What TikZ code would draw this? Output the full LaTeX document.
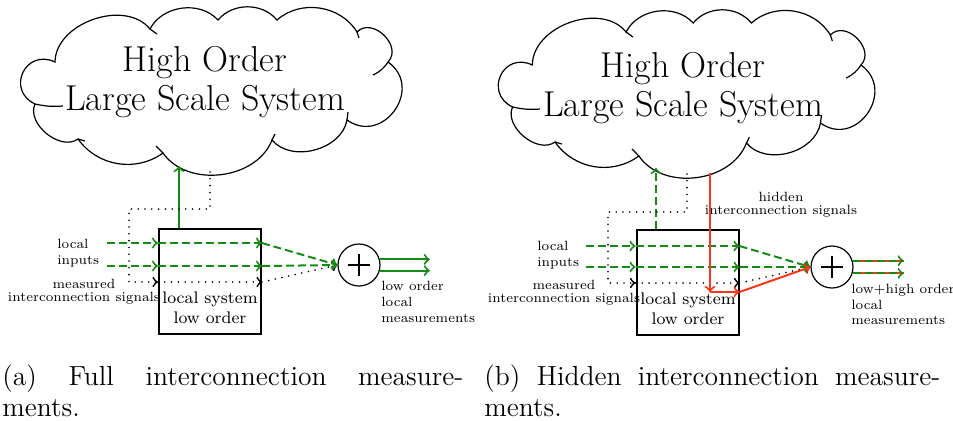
\documentclass[tikz,border=0pt]{standalone}
\usetikzlibrary{calc}
\definecolor{sigGreen}{RGB}{20,140,20}
\definecolor{sigRed}{RGB}{250,55,25}
\tikzset{
  cloudline/.style={line width=0.6pt},
  hostext/.style={align=center, font=\fontsize{18}{19.5}\selectfont},
  sysbox/.style={draw, line width=1pt, minimum width=51pt, minimum height=52.5pt},
  boxtext/.style={align=center, font=\fontsize{8.4}{10}\selectfont, inner sep=0pt},
  sumnode/.style={circle, draw, line width=0.6pt, minimum size=21pt, inner sep=0pt},
  lbl/.style={font=\fontsize{6.7}{7.9}\selectfont, inner sep=0pt},
  gsolid/.style={sigGreen, line width=1pt},
  gdash/.style={sigGreen, line width=1pt, dash pattern=on 4pt off 2pt},
  rsolid/.style={sigRed, line width=1pt},
  dots/.style={black, line width=0.9pt, dash pattern=on 0pt off 3.4pt, line cap=round},
  capt/.style={font=\fontsize{13.8}{15.5}\selectfont, align=left, inner sep=0pt, anchor=north west}
}
\begin{document}
\begin{tikzpicture}[x=0.5pt,y=-0.5pt]
\useasboundingbox (0,0) rectangle (953,420);
% clouds
\foreach \sx/\sy/\sc in {0/0/1, 478/3/0.987} {
  \begin{scope}[shift={(\sx,\sy)}, xscale=\sc]
    \draw[cloudline] (55,62) to[bend left=70] (150,29)
      to[bend left=55] (218,20) to[bend left=50] (277,20)
      to[bend left=50] (357,32) to[bend left=90, looseness=1.3] (388,62)
      to[bend left=90, looseness=1.6] (347,120) to[bend left=65] (272,140)
      to[bend left=62] (163,153) to[bend left=45] (78,139)
      to[bend left=75] (35,104) to[bend left=90, looseness=1.8] cycle;
    \draw[cloudline] (35,104) to[bend right=8] (63,106)
      (163,153) -- (156,146) (388,62) to[bend left=15] (373,75)
      (272,140) -- (275,134) (347,120) -- (348,112)
      (150,29) -- (157,34) (357,32) -- (359,38) (78,139) -- (85,141);
  \end{scope}
}
% left panel
\node[hostext] (hosL) at (205,82) {High Order\\Large Scale System};
\node[sysbox] (boxL) at (210,281.5) {};
\node[boxtext] (boxLt) at (210,308) {local system\\low order};
\node[sumnode] (sumL) at (359,265) {};
\draw[line width=0.6pt] (sumL.center) ++(-11,0) -- ++(22,0) (sumL.center) ++(0,-11) -- ++(0,22);
\coordinate (upL) at (179,166);
\coordinate (hiL) at (210,172);
\coordinate (inL1) at (107,243);
\coordinate (inL2) at (107,266);
\coordinate (msL) at (129,282);
\node[lbl, align=left, anchor=west] (inLt) at (57,253.5) {local\\inputs};
\node[lbl, align=center] (msLt) at (84,291.5) {measured\\[-1.5pt]interconnection signals};
\node[lbl, align=left, anchor=west] (outLt) at (381,302) {low order\\local\\measurements};
\draw[gsolid,->] (boxL.north -| upL) -- (upL);
\draw[dots,->] (hiL) -- ++(0,37) -| (msL) -- (msL -| boxL.west);
\draw[dots,->] (msL -| boxL.west) -- (msL -| boxL.east);
\draw[dots,->] (msL -| boxL.east) -- (sumL.west);
\foreach \i in {inL1,inL2} {
  \draw[gdash,->] (\i) -- (\i -| boxL.west);
  \draw[gdash,->] (\i -| boxL.west) -- (\i -| boxL.east);
  \draw[gdash,->] (\i -| boxL.east) -- (sumL.west);
}
\draw[gsolid,->] (sumL.15) -- ++(50,0);
\draw[gsolid,->] (sumL.-15) -- ++(50,0);
\node[capt] (captL) at (2,364) {\makebox[230.5pt][s]{(a) Full interconnection measure-}\\ments.};
% right panel
\node[hostext] (hosR) at (683,88) {High Order\\Large Scale System};
\node[sysbox] (boxR) at (687.5,282.5) {};
\node[boxtext] (boxRt) at (688,308.5) {local system\\low order};
\node[sumnode] (sumR) at (832,267) {};
\draw[line width=0.6pt] (sumR.center) ++(-11,0) -- ++(22,0) (sumR.center) ++(0,-11) -- ++(0,22);
\coordinate (upR) at (656,168);
\coordinate (hiR) at (687,174);
\coordinate (hidR) at (710,173);
\coordinate (kR) at (710,292);
\coordinate (inR1) at (586,246);
\coordinate (inR2) at (586,267);
\coordinate (msR) at (608,283);
\node[lbl, align=left, anchor=west] (inRt) at (537,255) {local\\inputs};
\node[lbl, align=center] (msRt) at (564,292.5) {measured\\[-1.5pt]interconnection signals};
\node[lbl, align=center] (hidRt) at (781,205) {hidden\\[-1.5pt]interconnection signals};
\node[lbl, align=left, anchor=west] (outRt) at (851,304.5) {low+high order\\local\\measurements};
\draw[gdash,->] (boxR.north -| upR) -- (upR);
\draw[dots,->] (hiR) -- ++(0,38) -| (msR) -- (msR -| boxR.west);
\draw[dots,->] (msR -| boxR.west) -- (msR -| boxR.east);
\draw[dots,->] (msR -| boxR.east) -- (sumR.west);
\foreach \i in {inR1,inR2} {
  \draw[gdash,->] (\i) -- (\i -| boxR.west);
  \draw[gdash,->] (\i -| boxR.west) -- (\i -| boxR.east);
  \draw[gdash,->] (\i -| boxR.east) -- (sumR.west);
}
\draw[rsolid,->] (hidR) -- (kR);
\draw[rsolid,->] (kR) -- (kR -| boxR.east);
\draw[rsolid,->] (kR -| boxR.east) -- (sumR.west);
\draw[rsolid] (sumR.17) -- ++(51,0);
\draw[rsolid] (sumR.-17) -- ++(51,0);
\draw[gdash,->] (sumR.17) -- ++(51,0);
\draw[gdash,->] (sumR.-17) -- ++(51,0);
\node[capt] (captR) at (484,364) {\makebox[228pt][s]{(b) Hidden interconnection measure-}\\ments.};
\end{tikzpicture}
\end{document}
